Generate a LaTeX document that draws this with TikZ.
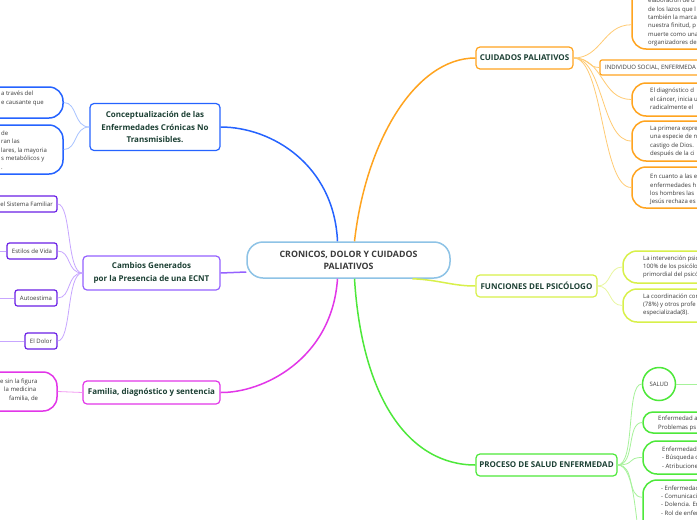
\documentclass[tikz,border=0pt]{standalone}
\usepackage{fontspec}
\setmainfont{Open Sans}
\usetikzlibrary{calc}
\definecolor{topictext}{HTML}{1C4034}
\definecolor{smalltext}{HTML}{3A3A3A}
\definecolor{centertext}{HTML}{3A3A3A}
\definecolor{centerB}{HTML}{8EC3E6}
\definecolor{blueB}{HTML}{2563FF}
\definecolor{blueL}{HTML}{A8C3FF}
\definecolor{purpB}{HTML}{9561FF}
\definecolor{purpD}{HTML}{6A1FE6}
\definecolor{purpL}{HTML}{C7A6FF}
\definecolor{magB}{HTML}{E236E8}
\definecolor{magL}{HTML}{F29AF2}
\definecolor{oraB}{HTML}{FFA41F}
\definecolor{oraL}{HTML}{FFCB73}
\definecolor{yelB}{HTML}{D8F04A}
\definecolor{yelL}{HTML}{E9F7A0}
\definecolor{grnB}{HTML}{4DE83A}
\definecolor{grnL}{HTML}{A6F29A}
\begin{document}
\begin{tikzpicture}[x=1pt,y=-1pt,
  topic/.style={draw, rounded corners=4pt, line width=1.2pt, fill=white, align=center,
    font=\fontsize{8}{12.5}\selectfont\bfseries, text=topictext, inner sep=0pt},
  bigbox/.style={draw, rounded corners=14pt, line width=1.5pt, fill=white, inner sep=0pt},
  smallbox/.style={draw, rounded corners=2.5pt, line width=1.2pt, fill=white, inner sep=0pt,
    font=\fontsize{6}{8.4}\selectfont, text=smalltext},
  txt/.style={font=\fontsize{6}{8.4}\selectfont, text=smalltext, align=left, inner sep=0pt},
  mainc/.style={line width=1.5pt},
  subc/.style={line width=0.8pt},
]
\clip (0,0) rectangle (697,520);
\fill[white] (0,0) rectangle (697,520);

% central topic
\node[draw=centerB, line width=1.5pt, rounded corners=16pt, fill=white, minimum width=203pt,
  minimum height=36pt, inner sep=0pt, align=center, font=\fontsize{8.8}{12}\selectfont\bfseries,
  text=centertext] (c) at (348.5,260) {CRONICOS, DOLOR Y CUIDADOS\\PALIATIVOS};

% main topics
\node[topic, draw=blueB, minimum width=130pt, minimum height=47pt] (concept) at (155,127)
  {Conceptualización de las\\Enfermedades Crónicas No\\Transmisibles.};
\node[topic, draw=purpB, minimum width=137pt, minimum height=34pt] (camb) at (151.5,273)
  {Cambios Generados\\por la Presencia de una ECNT};
\node[topic, draw=magB, minimum width=137pt, minimum height=23pt] (fam) at (151.5,392.5)
  {Familia, diagnóstico y sentencia};
\node[topic, draw=oraB, minimum width=97pt, minimum height=22pt] (cuid) at (524.5,58)
  {CUIDADOS PALIATIVOS};
\node[topic, draw=yelB, minimum width=121pt, minimum height=22pt] (func) at (536.5,286)
  {FUNCIONES DEL PSICÓLOGO};
\node[topic, draw=grnB, minimum width=141pt, minimum height=22pt] (proc) at (546.5,465)
  {PROCESO DE SALUD ENFERMEDAD};

% left boxes
\node[bigbox, draw=blueB, minimum width=103pt, minimum height=31pt] (bb1) at (11.5,102.5) {};
\node[txt, anchor=west] (bb1t) at (1,98.5) {a través del\\e causante que};
\node[bigbox, draw=blueB, minimum width=103pt, minimum height=49pt] (bb2) at (11.5,149.5) {};
\node[txt, anchor=west] (bb2t) at (1,150) {de\\ran las\\lares, la mayoria\\s metabólicos y\\.};

\node[smallbox, draw=purpD, minimum width=87pt, minimum height=16pt] (pb1) at (13.5,204) {};
\node[txt, anchor=east] (pb1t) at (53,204) {el Sistema Familiar};
\node[smallbox, draw=purpD, minimum width=50pt, minimum height=16pt] (pb2) at (32,251) {Estilos de Vida};
\node[smallbox, draw=purpD, minimum width=42pt, minimum height=16pt] (pb3) at (36,298) {Autoestima};
\node[smallbox, draw=purpD, minimum width=32pt, minimum height=16pt] (pb4) at (41,341) {El Dolor};

\node[bigbox, draw=magB, minimum width=97pt, minimum height=39pt] (mb1) at (8.5,391.5) {};
\node[txt, anchor=west] (mb1t) at (0,390) {e sin la figura\\\hspace*{4pt}la medicina\\\hspace*{9pt}familia, de};

% right boxes (orange)
\node[bigbox, draw=oraB, minimum width=128pt, minimum height=79pt] (ob1) at (696,9.5) {};
\node[txt, anchor=west, font=\fontsize{6}{8.3}\selectfont] (ob1t) at (648,22)
  {elaboración de u\\de los lazos que l\\también la marca\\nuestra finitud, p\\muerte como una\\organizadores de};
\node[smallbox, draw=oraB, rounded corners=2pt, minimum width=160pt, minimum height=15pt] (ob2) at (680,67.5) {};
\node[txt, anchor=west] (ob2t) at (605,67.5) {INDIVIDUO SOCIAL, ENFERMEDA};
\node[bigbox, draw=oraB, minimum width=128pt, minimum height=33pt] (ob3) at (696,99.5) {};
\node[txt, anchor=west] (ob3t) at (650,99) {El diagnóstico d\\el cáncer, inicia u\\radicalmente el};
\node[bigbox, draw=oraB, minimum width=128pt, minimum height=40pt] (ob4) at (696,141) {};
\node[txt, anchor=west] (ob4t) at (650,141.5) {La primera expre\\una especie de n\\castigo de Dios.\\después de la ci};
\node[bigbox, draw=oraB, minimum width=128pt, minimum height=41pt] (ob5) at (696,187.5) {};
\node[txt, anchor=west] (ob5t) at (650,189.5) {En cuanto a las e\\enfermedades h\\los hombres las\\Jesús rechaza es};

% yellow
\node[bigbox, draw=yelB, minimum width=137pt, minimum height=32pt] (yb1) at (691.5,267) {};
\node[txt, anchor=west] (yb1t) at (643,267) {La intervención psic\\100\% de los psicólo\\primordial del psicó};
\node[bigbox, draw=yelB, minimum width=137pt, minimum height=33pt] (yb2) at (691.5,305.5) {};
\node[txt, anchor=west] (yb2t) at (643,305) {La coordinación con\\(78\%) y otros profe\\especializada(8).};

% green
\node[draw=grnB, line width=1.5pt, circle, minimum size=33pt, inner sep=0pt, fill=white,
  font=\fontsize{6}{8.4}\selectfont, text=smalltext] (salud) at (659,384) {SALUD};
\node[bigbox, draw=grnB, rounded corners=10pt, minimum width=117pt, minimum height=21pt] (gb2) at (701.5,422.5) {};
\node[txt, anchor=west] (gb2t) at (658,423.5) {Enfermedad a\\Problemas ps};
\node[bigbox, draw=grnB, minimum width=117pt, minimum height=33pt] (gb3) at (701.5,457.5) {};
\node[txt, anchor=west] (gb3t) at (662,457.5) {Enfermedad\\- Búsqueda d\\- Atribucione};
\node[bigbox, draw=grnB, minimum width=117pt, minimum height=60pt] (gb4) at (701.5,510) {};
\node[txt, anchor=west] (gb4t) at (661,500.5) {- Enfermedad\\- Comunicaci\\- Dolencia. En\\- Rol de enfer};
\coordinate (goff) at (641,545);
\coordinate (soff) at (710,384);

% main connectors
\draw[mainc, blueB] ($(c.north)+(-11,0)$) .. controls (334,165) and (272,127) .. (concept.east);
\draw[mainc, oraB] ($(c.north)+(6,0)$) .. controls (366,140) and (416,58) .. (cuid.west);
\draw[mainc, purpB] ($(c.west)+(0,12)$) -- (camb.east);
\draw[mainc, magB] ($(c.south)+(-11,0)$) .. controls (332,360) and (262,393) .. (fam.east);
\draw[mainc, grnB] ($(c.south)+(6,0)$) .. controls (362,400) and (410,465) .. (proc.west);
\draw[mainc, yelB] ($(c.south)+(64,0)$) .. controls (440,280) and (452,286) .. (func.west);

% sub connectors
\draw[subc, blueL] (concept.west) .. controls +(-16,0) and +(14,0) .. (bb1.east);
\draw[subc, blueL] (concept.west) .. controls +(-16,0) and +(14,0) .. (bb2.east);
\draw[subc, purpL] (camb.west) .. controls +(-16,0) and +(14,0) .. (pb1.east);
\draw[subc, purpL] (camb.west) .. controls +(-16,0) and +(14,0) .. (pb2.east);
\draw[subc, purpL] (camb.west) .. controls +(-16,0) and +(14,0) .. (pb3.east);
\draw[subc, purpL] (camb.west) .. controls +(-16,0) and +(14,0) .. (pb4.east);
\draw[subc, purpL] (pb2.west) -- +(-20,0);
\draw[subc, purpL] (pb3.west) -- +(-20,0);
\draw[subc, purpL] (pb4.west) -- +(-30,0);
\draw[subc, magL] (fam.west) -- (mb1.east);
\draw[subc, oraL] (cuid.east) .. controls +(28,0) and +(-28,0) .. ($(ob1.south west)+(0,-25)$);
\draw[subc, oraL] (cuid.east) .. controls +(16,0) and +(-12,0) .. (ob2.west);
\draw[subc, oraL] (cuid.east) .. controls +(30,0) and +(-30,0) .. (ob3.west);
\draw[subc, oraL] (cuid.east) .. controls +(30,0) and +(-30,0) .. (ob4.west);
\draw[subc, oraL] (cuid.east) .. controls +(30,0) and +(-30,0) .. (ob5.west);
\draw[subc, yelL] (func.east) .. controls +(14,0) and +(-14,0) .. (yb1.west);
\draw[subc, yelL] (func.east) .. controls +(14,0) and +(-14,0) .. (yb2.west);
\draw[subc, grnL] (proc.east) .. controls +(18,0) and +(-16,0) .. (salud.west);
\draw[subc, grnL] (proc.east) .. controls +(18,0) and +(-16,0) .. (gb2.west);
\draw[subc, grnL] (proc.east) .. controls +(18,0) and +(-16,0) .. (gb3.west);
\draw[subc, grnL] (proc.east) .. controls +(18,0) and +(-16,0) .. ($(gb4.north west)+(0,18)$);
\draw[subc, grnL] (proc.east) .. controls +(18,0) and +(-6,-20) .. (goff);
\draw[subc, grnL] (salud.east) -- (soff);
\end{tikzpicture}
\end{document}
